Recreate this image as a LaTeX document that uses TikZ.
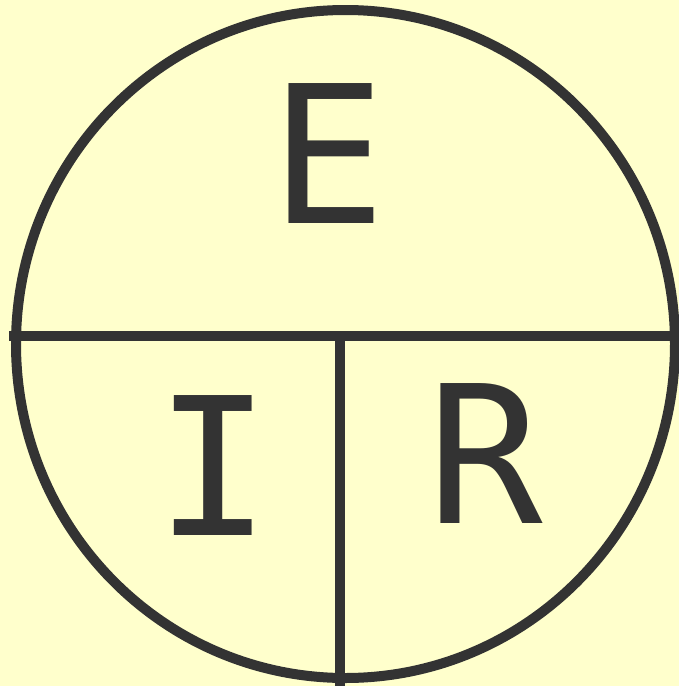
\documentclass[tikz,border=0pt]{standalone}
\usepackage{fontspec}
\newfontfamily\letterfont{DejaVu Sans Mono}
\definecolor{bg}{HTML}{FFFFCC}
\definecolor{ink}{HTML}{333333}
\begin{document}
\begin{tikzpicture}[x=1pt,y=-1pt,
  line/.style={draw=ink,line width=10pt},
  letter/.style={text=ink,inner sep=0pt,font=\letterfont\fontsize{192}{192}\selectfont}]
\fill[bg] (0,0) rectangle (679,686);
\useasboundingbox (0,0) rectangle (679,686);
\draw[line] (345.5,344) ellipse [x radius=329.5, y radius=334];
\coordinate (hl) at (9,335.5);
\coordinate (hr) at (685,335.5);
\coordinate (vt) at (339.5,335.5);
\coordinate (vb) at (339.5,692);
\draw[line] (hl) -- (hr);
\draw[line] (vt) -- (vb);
\node[letter] (E) at (328.5,154) {E};
\node[letter] (I) at (213.5,466) {I};
\node[letter] (R) at (485,453.5) {R};
\end{tikzpicture}
\end{document}
